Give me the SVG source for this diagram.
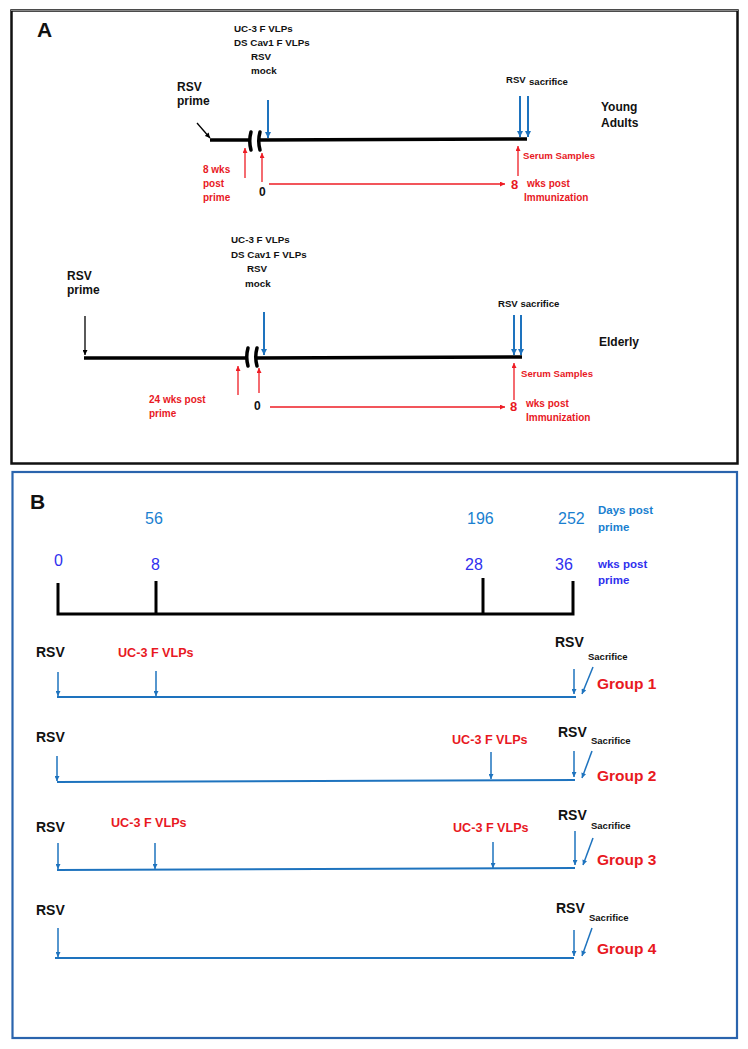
<svg xmlns="http://www.w3.org/2000/svg" width="748" height="1049" viewBox="0 0 748 1049">
<defs>
<style>
text{font-family:"Liberation Sans",Arial,sans-serif;font-weight:bold}
.k{fill:#111}
.r{fill:#e8191f}
.db{fill:#1a7fd0}
.wb{fill:#3030ee}
.num{font-weight:normal}
.tl{stroke:#000;stroke-width:3.5;fill:none}
.brk{stroke:#000;stroke-width:3.5;stroke-linecap:round;fill:none}
.ab{stroke:#1e73be;stroke-width:2;fill:none;marker-end:url(#mb)}
.ab1{stroke:#1e73be;stroke-width:1.5;fill:none;marker-end:url(#mb2)}
.ar{stroke:#ee1c24;stroke-width:1.3;fill:none;marker-end:url(#mr)}
.ak{stroke:#000;stroke-width:1.3;fill:none;marker-end:url(#mk)}
.bl{stroke:#1e73be;stroke-width:2.2;fill:none}
.ax{stroke:#000;stroke-width:3;fill:none}
</style>
<marker id="mb" viewBox="0 0 10 10" refX="10" refY="5" markerWidth="7" markerHeight="6" markerUnits="userSpaceOnUse" orient="auto"><path d="M0,0 L10,5 L0,10 z" fill="#1e73be"/></marker>
<marker id="mb2" viewBox="0 0 10 10" refX="10" refY="5" markerWidth="6" markerHeight="5" markerUnits="userSpaceOnUse" orient="auto"><path d="M0,0 L10,5 L0,10 z" fill="#1e73be"/></marker>
<marker id="mr" viewBox="0 0 10 10" refX="10" refY="5" markerWidth="6" markerHeight="5" markerUnits="userSpaceOnUse" orient="auto"><path d="M0,0 L10,5 L0,10 z" fill="#ee1c24"/></marker>
<marker id="mk" viewBox="0 0 10 10" refX="10" refY="5" markerWidth="6" markerHeight="5" markerUnits="userSpaceOnUse" orient="auto"><path d="M0,0 L10,5 L0,10 z" fill="#000"/></marker>
</defs>
<rect width="748" height="1049" fill="#fff"/>

<g id="panelA">
<rect x="11.5" y="10.5" width="726" height="453" fill="none" stroke="#111" stroke-width="2.5"/>
<line x1="11" y1="10.5" x2="738" y2="10.5" stroke="#888" stroke-width="1.2"/>
<text x="37" y="37" font-size="21" class="k">A</text>
</g>

<g id="panelB">
<rect x="12.5" y="472" width="724.5" height="566" fill="none" stroke="#2a64ad" stroke-width="2.2"/>
<text x="30" y="509" font-size="21" class="k">B</text>
</g>

<g id="young-adults">
<text x="234" y="32" font-size="9.8" class="k">UC-3 F VLPs</text>
<text x="234" y="46" font-size="9.8" class="k">DS Cav1 F VLPs</text>
<text x="251" y="60" font-size="9.8" class="k">RSV</text>
<text x="251" y="74" font-size="9.8" class="k">mock</text>
<text x="177" y="91" font-size="12" class="k">RSV</text>
<text x="177" y="105" font-size="12" class="k">prime</text>
<text x="203" y="173" font-size="10" class="r">8 wks</text>
<text x="203" y="187" font-size="10" class="r">post</text>
<text x="203" y="201" font-size="10" class="r">prime</text>
<text x="259" y="196" font-size="12" class="k">0</text>
<text x="511" y="189" font-size="13" class="r">8</text>
<text x="527" y="187" font-size="10" class="r">wks post</text>
<text x="524" y="201" font-size="10" class="r">Immunization</text>
<text x="523" y="159" font-size="9.6" class="r">Serum Samples</text>
<text x="506" y="83" font-size="9.6" class="k">RSV</text>
<text x="529" y="85" font-size="9.6" class="k">sacrifice</text>
<text x="601" y="111" font-size="12" class="k">Young</text>
<text x="601" y="127" font-size="12" class="k">Adults</text>
</g>

<g id="elderly">
<text x="231" y="243" font-size="9.8" class="k">UC-3 F VLPs</text>
<text x="231" y="258" font-size="9.8" class="k">DS Cav1 F VLPs</text>
<text x="247" y="272" font-size="9.8" class="k">RSV</text>
<text x="245" y="287" font-size="9.8" class="k">mock</text>
<text x="67" y="280" font-size="12" class="k">RSV</text>
<text x="67" y="294" font-size="12" class="k">prime</text>
<text x="149" y="403" font-size="10" class="r">24 wks post</text>
<text x="149" y="417" font-size="10" class="r">prime</text>
<text x="254" y="410" font-size="12" class="k">0</text>
<text x="510" y="411" font-size="13" class="r">8</text>
<text x="526" y="407" font-size="10" class="r">wks post</text>
<text x="526" y="421" font-size="10" class="r">Immunization</text>
<text x="521" y="377" font-size="9.6" class="r">Serum Samples</text>
<text x="498" y="307" font-size="9.6" class="k">RSV sacrifice</text>
<text x="599" y="346" font-size="12" class="k">Elderly</text>
</g>

<g id="axisB">
<text x="145" y="524" font-size="16" class="db num">56</text>
<text x="467" y="524" font-size="16" class="db num">196</text>
<text x="558" y="524" font-size="16" class="db num">252</text>
<text x="598" y="514" font-size="11.5" class="db">Days post</text>
<text x="598" y="531" font-size="11.5" class="db">prime</text>
<text x="54" y="566" font-size="16" class="wb num">0</text>
<text x="151" y="570" font-size="16" class="wb num">8</text>
<text x="465" y="570" font-size="16" class="wb num">28</text>
<text x="555" y="570" font-size="16" class="wb num">36</text>
<text x="598" y="568" font-size="11.5" class="wb">wks post</text>
<text x="598" y="584" font-size="11.5" class="wb">prime</text>
</g>

<g id="group1">
<text x="36" y="657" font-size="14" class="k">RSV</text>
<text x="118" y="657" font-size="12.6" class="r">UC-3 F VLPs</text>
<text x="555" y="647" font-size="14" class="k">RSV</text>
<text x="588" y="660" font-size="9.5" class="k">Sacrifice</text>
<text x="597" y="689" font-size="15.5" class="r">Group 1</text>
</g>
<g id="group2">
<text x="36" y="742" font-size="14" class="k">RSV</text>
<text x="452" y="744" font-size="12.6" class="r">UC-3 F VLPs</text>
<text x="558" y="737" font-size="14" class="k">RSV</text>
<text x="591" y="744" font-size="9.5" class="k">Sacrifice</text>
<text x="597" y="781" font-size="15.5" class="r">Group 2</text>
</g>
<g id="group3">
<text x="36" y="832" font-size="14" class="k">RSV</text>
<text x="111" y="827" font-size="12.6" class="r">UC-3 F VLPs</text>
<text x="453" y="832" font-size="12.6" class="r">UC-3 F VLPs</text>
<text x="558" y="820" font-size="14" class="k">RSV</text>
<text x="591" y="829" font-size="9.5" class="k">Sacrifice</text>
<text x="597" y="865" font-size="15.5" class="r">Group 3</text>
</g>
<g id="group4">
<text x="36" y="915" font-size="14" class="k">RSV</text>
<text x="556" y="913" font-size="14" class="k">RSV</text>
<text x="589" y="921" font-size="9.5" class="k">Sacrifice</text>
<text x="597" y="954" font-size="15.5" class="r">Group 4</text>
</g>

<g id="connectors">
<!-- Young adults timeline -->
<line class="tl" x1="210" y1="140" x2="249" y2="140"/>
<line class="tl" x1="259" y1="140" x2="527" y2="139"/>
<path class="brk" d="M251,132 Q248.5,141 251,150"/>
<path class="brk" d="M260,132 Q257.5,141 260,150"/>
<line class="ak" x1="197" y1="123" x2="210" y2="138"/>
<line class="ab" x1="268" y1="100" x2="268" y2="138"/>
<line class="ab" x1="520" y1="96" x2="520" y2="137"/>
<line class="ab" x1="528" y1="96" x2="528" y2="137"/>
<line class="ar" x1="245" y1="178" x2="245" y2="148"/>
<line class="ar" x1="262" y1="182" x2="262" y2="153"/>
<line class="ar" x1="269" y1="184" x2="505" y2="184"/>
<line class="ar" x1="518" y1="176" x2="518" y2="146"/>
<!-- Elderly timeline -->
<line class="tl" x1="84" y1="358" x2="246" y2="358"/>
<line class="tl" x1="256" y1="358" x2="522" y2="357"/>
<path class="brk" d="M248,348 Q245.5,357 248,366"/>
<path class="brk" d="M257,348 Q254.5,357 257,366"/>
<line class="ak" x1="85" y1="316" x2="85" y2="355"/>
<line class="ab" x1="264" y1="312" x2="264" y2="355"/>
<line class="ab" x1="514" y1="315" x2="514" y2="355"/>
<line class="ab" x1="521" y1="315" x2="521" y2="355"/>
<line class="ar" x1="238" y1="395" x2="238" y2="366"/>
<line class="ar" x1="259" y1="393" x2="259" y2="368"/>
<line class="ar" x1="270" y1="407" x2="505" y2="407"/>
<line class="ar" x1="514" y1="400" x2="514" y2="363"/>
<!-- Panel B axis -->
<polyline class="ax" points="58,583 58,614 573,614 573,581"/>
<line class="ax" x1="156" y1="581" x2="156" y2="614"/>
<line class="ax" x1="483" y1="578" x2="483" y2="614"/>
<!-- Group 1 -->
<line class="bl" x1="57" y1="697" x2="576" y2="697"/>
<line class="ab1" x1="58" y1="672" x2="58" y2="696"/>
<line class="ab1" x1="156" y1="671" x2="156" y2="696"/>
<line class="ab1" x1="574" y1="669" x2="574" y2="694"/>
<line class="ab1" x1="593" y1="667" x2="582" y2="694"/>
<!-- Group 2 -->
<line class="bl" x1="57" y1="782" x2="575" y2="780"/>
<line class="ab1" x1="57" y1="756" x2="57" y2="781"/>
<line class="ab1" x1="491" y1="752" x2="491" y2="779"/>
<line class="ab1" x1="574" y1="751" x2="574" y2="777"/>
<line class="ab1" x1="592" y1="751" x2="582" y2="778"/>
<!-- Group 3 -->
<line class="bl" x1="57" y1="870" x2="575" y2="868"/>
<line class="ab1" x1="58" y1="843" x2="58" y2="869"/>
<line class="ab1" x1="155" y1="843" x2="155" y2="869"/>
<line class="ab1" x1="493" y1="842" x2="493" y2="868"/>
<line class="ab1" x1="575" y1="831" x2="575" y2="865"/>
<line class="ab1" x1="593" y1="838" x2="583" y2="865"/>
<!-- Group 4 -->
<line class="bl" x1="55" y1="958" x2="574" y2="958"/>
<line class="ab1" x1="58" y1="928" x2="58" y2="957"/>
<line class="ab1" x1="574" y1="930" x2="574" y2="956"/>
<line class="ab1" x1="592" y1="928" x2="582" y2="956"/>
</g>
</svg>
